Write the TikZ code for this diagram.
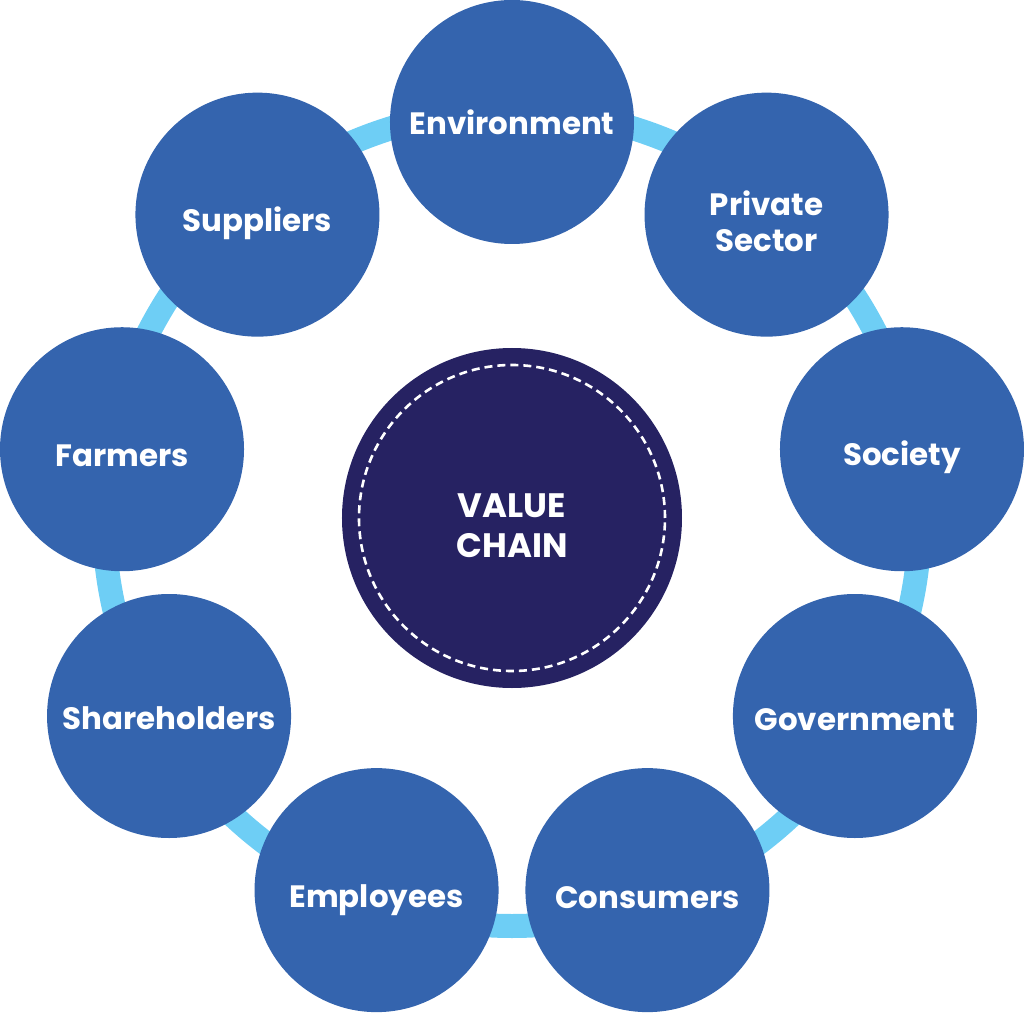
\documentclass[tikz,border=0pt]{standalone}
\usepackage{fontspec}
\setmainfont{Poppins}
\definecolor{petal}{RGB}{52,100,174}
\definecolor{hub}{RGB}{38,34,98}
\definecolor{band}{RGB}{110,206,245}
\begin{document}
\begin{tikzpicture}[x=1bp,y=1bp,
    petal/.style={circle,fill=petal,minimum size=244bp,inner sep=0pt},
    petaltext/.style={text=white,align=center,inner sep=0pt,
      font=\bfseries\fontsize{31}{36}\selectfont},
    hub/.style={circle,fill=hub,minimum size=340bp,inner sep=0pt},
    hubtext/.style={text=white,align=center,inner sep=0pt,
      font=\bfseries\fontsize{34}{40}\selectfont},
    ring/.style={band,line width=24bp},
    dashring/.style={white,line width=2.6bp,dash pattern=on 8bp off 5bp}]
  \useasboundingbox (-512,-495) rectangle (512,518);
  % ---- the light blue ring behind the stakeholders ----
  \coordinate (o) at (0,0);
  \draw[ring] (o) circle (408);
  % ---- the nine stakeholders, every 40 degrees ----
  \foreach \name/\ang/\dy/\txt in {env/90/0/Environment, priv/50/-7/{Private\\Sector},
      soc/10/-8/Society, gov/-30/-4/Government, cons/-70/-8/Consumers,
      empl/-110/-10/Employees, share/-150/-2/Shareholders, farm/170/-7/Farmers,
      supp/130/-9/Suppliers}{
    \node[petal,label={[petaltext,yshift=\dy]center:\txt}] (\name) at (\ang:396) {};
  }
  % ---- the value chain in the middle ----
  \node[hub,label={[hubtext,yshift=-8]center:VALUE\\CHAIN}] (vc) at (o) {};
  \draw[dashring] (vc.center) circle (153);
\end{tikzpicture}
\end{document}
